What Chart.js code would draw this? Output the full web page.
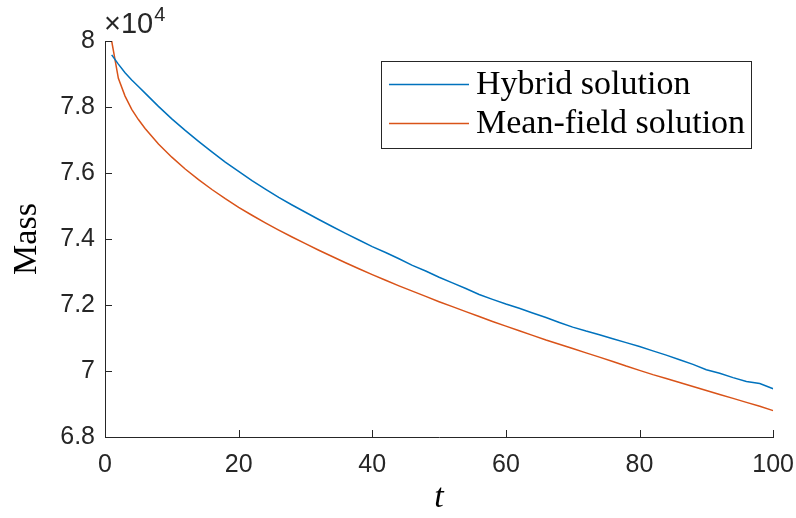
<!DOCTYPE html>
<html>
<head>
<meta charset="utf-8">
<script src="https://cdn.jsdelivr.net/npm/chart.js@4.4.1/dist/chart.umd.min.js"></script>
<style>
    html, body { margin: 0; padding: 0; background: #fff; }
    #wrap { width: 796px; height: 518px; }
</style>
</head>
<body>
<div id="wrap"><canvas id="mass-chart" width="796" height="518"></canvas></div>
<script>
// ── Data (mass in units of 10^4) ───────────────────────────

const tValues = [1, 2, 3, 4, 5, 6, 8, 10, 12, 14, 16, 18, 20, 22, 24, 26, 28, 30, 32, 34, 36, 38, 40,
    42, 44, 46, 48, 50, 52, 54, 56, 58, 60, 62, 64, 66, 68, 70, 72, 74, 76, 78, 80,
    82, 84, 86, 88, 90, 92, 94, 96, 98, 100];

const hybridMass = [7.958, 7.930, 7.904, 7.882, 7.862, 7.842, 7.802, 7.764, 7.729, 7.696, 7.664, 7.633, 7.605,
    7.577, 7.551, 7.526, 7.503, 7.481, 7.459, 7.438, 7.417, 7.397, 7.377,
    7.359, 7.340, 7.320, 7.303, 7.284, 7.267, 7.250, 7.232, 7.217, 7.203, 7.190, 7.176,
    7.162, 7.147, 7.133, 7.121, 7.110, 7.098, 7.086, 7.074,
    7.061, 7.048, 7.034, 7.020, 7.004, 6.993, 6.980, 6.968, 6.962, 6.946];

const meanFieldMass = [8.000, 7.887, 7.833, 7.793, 7.762, 7.735, 7.688, 7.648, 7.612, 7.580, 7.550, 7.522, 7.496,
    7.472, 7.449, 7.427, 7.406, 7.386, 7.366, 7.347, 7.328, 7.310, 7.292,
    7.275, 7.258, 7.242, 7.226, 7.210, 7.195, 7.180, 7.165, 7.150, 7.136, 7.122, 7.108,
    7.094, 7.081, 7.068, 7.055, 7.042, 7.029, 7.015, 7.002,
    6.989, 6.977, 6.965, 6.953, 6.941, 6.929, 6.917, 6.905, 6.893, 6.880];

const seriesLabels = ['Hybrid solution', 'Mean-field solution'];
const seriesColors = ['#0072BD', '#D95319'];

const xTicks = { min: 0, max: 100, step: 20 };
const yTicks = { min: 6.8, max: 8, step: 0.2 };
const yExponent = '4';

const AXIS_COLOR = '#262626';
const SANS = '"Liberation Sans", Arial, sans-serif';
const SERIF = '"Liberation Serif", "Times New Roman", serif';

// ── Plugins ────────────────────────────────────────────────

// MATLAB style: ticks point inward
const innerTicksPlugin = {
    id: 'innerTicks',
    afterDatasetsDraw(chart) {
        const { ctx, chartArea, scales } = chart;
        const len = 7;
        ctx.save();
        ctx.strokeStyle = AXIS_COLOR;
        ctx.lineWidth = 1;
        ctx.beginPath();
        scales.x.ticks.forEach(t => {
            const px = Math.round(scales.x.getPixelForValue(t.value)) + 0.5;
            ctx.moveTo(px, chartArea.bottom);
            ctx.lineTo(px, chartArea.bottom - len);
        });
        scales.y.ticks.forEach(t => {
            const py = Math.round(scales.y.getPixelForValue(t.value)) + 0.5;
            ctx.moveTo(chartArea.left, py);
            ctx.lineTo(chartArea.left + len, py);
        });
        ctx.stroke();

        // exponent label above y axis
        ctx.fillStyle = AXIS_COLOR;
        ctx.textBaseline = 'alphabetic';
        ctx.textAlign = 'left';
        ctx.font = '29px ' + SANS;
        const x0 = chartArea.left - 1;
        const base = chartArea.top - 8;
        ctx.fillText('\u00d710', x0, base);
        const w = ctx.measureText('\u00d710').width;
        ctx.font = '20px ' + SANS;
        ctx.fillText(yExponent, x0 + w + 1, base - 12);
        ctx.restore();
    }
};

// boxed legend inside the plot, top right
const boxLegendPlugin = {
    id: 'boxLegend',
    afterDraw(chart) {
        const { ctx, data } = chart;
        const box = { x: 381, y: 61, w: 370, h: 87 };
        ctx.save();
        ctx.fillStyle = '#fff';
        ctx.fillRect(box.x, box.y, box.w, box.h);
        ctx.strokeStyle = AXIS_COLOR;
        ctx.lineWidth = 1;
        ctx.strokeRect(box.x + 0.5, box.y + 0.5, box.w, box.h);

        ctx.font = '34px ' + SERIF;
        ctx.textBaseline = 'alphabetic';
        ctx.textAlign = 'left';
        data.datasets.forEach((ds, i) => {
            const rowY = box.y + 23.5 + i * 39;
            ctx.strokeStyle = ds.borderColor;
            ctx.lineWidth = 1.5;
            ctx.beginPath();
            ctx.moveTo(box.x + 8, rowY);
            ctx.lineTo(box.x + 88, rowY);
            ctx.stroke();
            ctx.fillStyle = '#000';
            ctx.fillText(ds.label, box.x + 95, rowY + 9.5);
        });
        ctx.restore();
    }
};

// ── Chart ──────────────────────────────────────────────────

const datasets = [hybridMass, meanFieldMass].map((vals, i) => ({
    label: seriesLabels[i],
    data: tValues.map((t, j) => ({ x: t, y: vals[j] })),
    borderColor: seriesColors[i],
    backgroundColor: seriesColors[i],
    borderWidth: 1.5,
    pointRadius: 0,
    tension: 0,
    fill: false
}));

new Chart(document.getElementById('mass-chart'), {
    type: 'line',
    data: { datasets },
    plugins: [innerTicksPlugin, boxLegendPlugin],
    options: {
        responsive: false,
        animation: false,
        layout: { padding: { top: 41, right: 12, left: 0, bottom: 0 } },
        plugins: { legend: { display: false }, tooltip: { enabled: false } },
        scales: {
            x: {
                type: 'linear',
                min: xTicks.min,
                max: xTicks.max,
                afterFit: s => { s.height = 81; },
                // invisible outer tick marks only push the labels down
                grid: { display: true, drawOnChartArea: false, drawTicks: true, tickLength: 11, tickColor: 'rgba(0,0,0,0)' },
                border: { display: true, color: AXIS_COLOR, width: 1 },
                ticks: {
                    stepSize: xTicks.step,
                    padding: 2,
                    maxRotation: 0,
                    color: AXIS_COLOR,
                    font: { family: SANS, size: 25 }
                },
                title: {
                    display: true,
                    text: 't',
                    color: '#000',
                    padding: { top: 0, bottom: 0 },
                    font: { family: SERIF, size: 34, style: 'italic', lineHeight: 1.2 }
                }
            },
            y: {
                type: 'linear',
                min: yTicks.min,
                max: yTicks.max,
                afterFit: s => { s.width = 105; },
                grid: { display: true, drawOnChartArea: false, drawTicks: false },
                border: { display: true, color: AXIS_COLOR, width: 1 },
                ticks: {
                    stepSize: yTicks.step,
                    padding: 10,
                    color: AXIS_COLOR,
                    font: { family: SANS, size: 25 },
                    callback: v => String(Number(v.toFixed(1)))
                },
                title: {
                    display: true,
                    text: 'Mass',
                    color: '#000',
                    padding: { top: 7, bottom: 0 },
                    font: { family: SERIF, size: 34, lineHeight: 1.2 }
                }
            }
        }
    }
});
</script>
</body>
</html>
